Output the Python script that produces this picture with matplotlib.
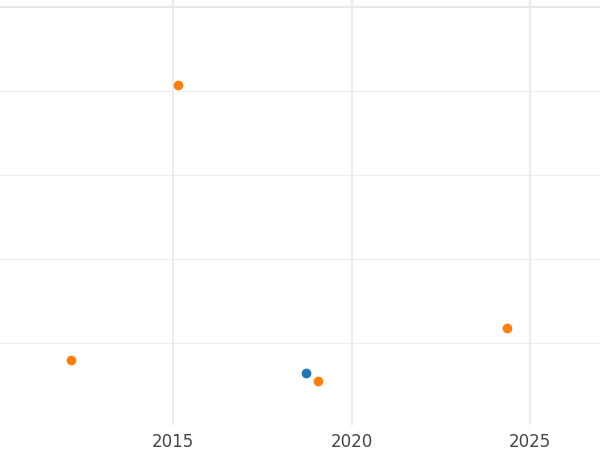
import matplotlib
matplotlib.use("Agg")
import matplotlib.pyplot as plt
import datetime as dt

orange_x = [2012.14, 2015.14, 2019.06, 2024.36]
orange_y = [0.80, 4.07, 0.55, 1.18]
blue_x = [2018.72]
blue_y = [0.64]
xticks = [2015, 2020, 2025]

def todate(y):
    yr = int(y)
    return dt.datetime(yr, 1, 1) + dt.timedelta(days=(y - yr) * 365.25)

fig = plt.figure(figsize=(6, 4.5), dpi=100)
ax = fig.add_axes([0, 25/450, 1, 1 - 25/450])
ax.set_xlim(todate(2010.15), todate(2026.96))
ax.set_ylim(0.024, 5.083)
for v in [1, 2, 3, 4]:
    ax.axhline(v, color="#eeeeee", lw=0.8, zorder=0)
ax.axhline(5, color="#e8e8e8", lw=1.5, zorder=0)
for x in xticks:
    ax.axvline(todate(x), color="#ebebeb", lw=1.5, zorder=0)
ax.scatter([todate(x) for x in orange_x], orange_y, color="#ff7f0e", s=36, zorder=3)
ax.scatter([todate(x) for x in blue_x], blue_y, color="#1f77b4", s=36, zorder=3)
ax.set_xticks([todate(x) for x in xticks])
ax.set_xticklabels([str(x) for x in xticks], fontsize=12, color="#444444")
ax.tick_params(length=0, pad=6)
ax.set_yticks([])
for s in ax.spines.values():
    s.set_visible(False)
fig.savefig("out.png")
